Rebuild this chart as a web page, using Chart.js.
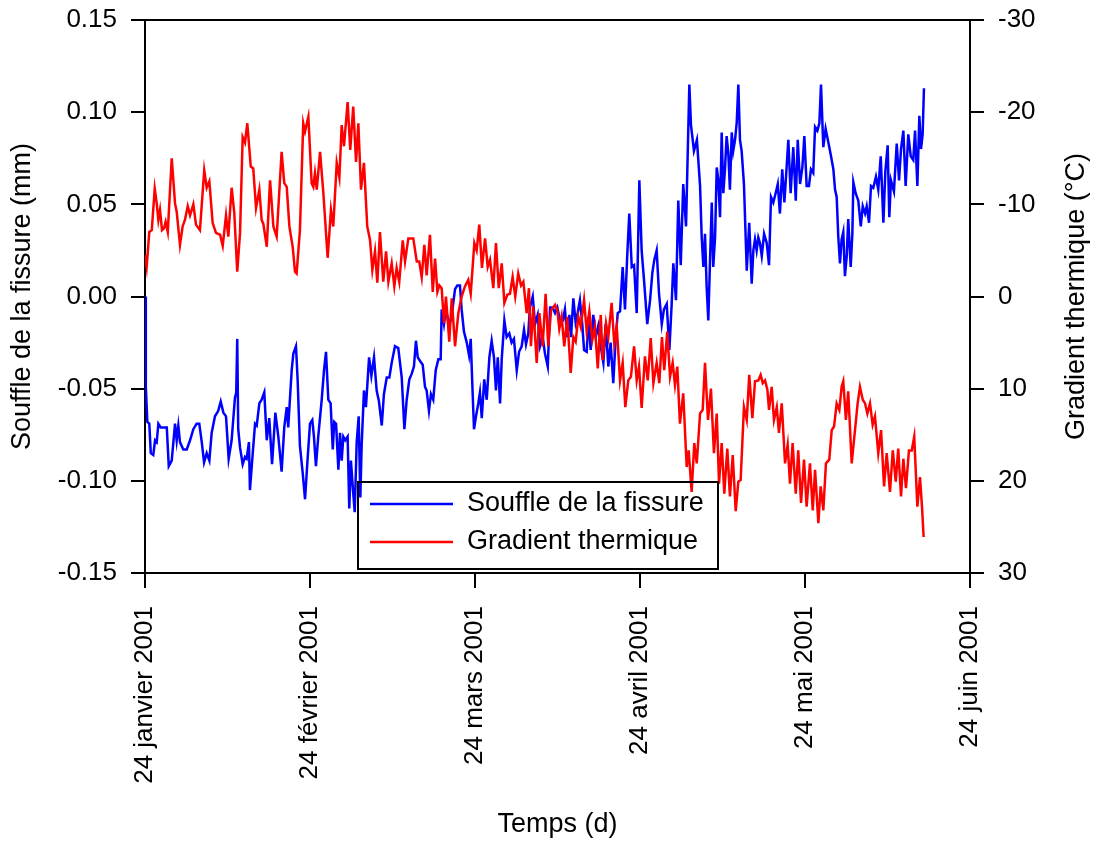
<!DOCTYPE html>
<html>
<head>
<meta charset="utf-8">
<script src="https://cdn.jsdelivr.net/npm/chart.js@4/dist/chart.umd.min.js"></script>
<style>
html, body { margin: 0; padding: 0; background: #fff; }
#wrap { width: 1099px; height: 844px; }
</style>
</head>
<body>
<div id="wrap"><canvas id="myChart" width="1099" height="844"></canvas></div>
<script>
// Axes: x in months from 24 January 2001
const xTickPos = [0, 1, 2, 3, 4, 5];
const xTickLabels = ["24 janvier 2001", "24 février 2001", "24 mars 2001", "24 avril 2001", "24 mai 2001", "24 juin 2001"];
const yTickPos = [-0.15, -0.10, -0.05, 0, 0.05, 0.10, 0.15];
const yTickLabels = ["-0.15", "-0.10", "-0.05", "0.00", "0.05", "0.10", "0.15"];
const y2TickPos = [-30, -20, -10, 0, 10, 20, 30];
const y2TickLabels = ["-30", "-20", "-10", "0", "10", "20", "30"];
const legendLabels = ["Souffle de la fissure", "Gradient thermique"];
const xTitle = "Temps (d)";
const yTitle = "Souffle de la fissure (mm)";
const y2Title = "Gradient thermique (°C)";

// Souffle de la fissure: [month, mm]
const souffle = [
  [0.000,0.000],[0.005,-0.049],[0.014,-0.068],[0.026,-0.069],[0.035,-0.085],[0.050,-0.086],[0.061,-0.078],[0.071,-0.079],[0.081,-0.069],[0.095,-0.071],[0.121,-0.071],[0.132,-0.071],[0.144,-0.092],[0.162,-0.089],[0.182,-0.069],[0.192,-0.078],[0.202,-0.070],[0.212,-0.079],[0.232,-0.083],[0.253,-0.083],[0.273,-0.078],[0.293,-0.072],[0.313,-0.069],[0.329,-0.069],[0.344,-0.079],[0.358,-0.090],[0.374,-0.085],[0.390,-0.089],[0.404,-0.074],[0.424,-0.065],[0.444,-0.062],[0.459,-0.057],[0.475,-0.063],[0.491,-0.065],[0.507,-0.088],[0.525,-0.078],[0.545,-0.055],[0.553,-0.052],[0.559,-0.023],[0.565,-0.072],[0.576,-0.082],[0.592,-0.091],[0.606,-0.087],[0.616,-0.088],[0.630,-0.079],[0.636,-0.105],[0.653,-0.085],[0.667,-0.069],[0.677,-0.070],[0.693,-0.058],[0.707,-0.056],[0.723,-0.052],[0.738,-0.078],[0.753,-0.066],[0.770,-0.091],[0.790,-0.063],[0.808,-0.076],[0.828,-0.095],[0.844,-0.071],
  [0.859,-0.060],[0.868,-0.071],[0.889,-0.040],[0.899,-0.031],[0.915,-0.027],[0.925,-0.045],[0.939,-0.081],[0.956,-0.096],[0.970,-0.110],[0.984,-0.090],[1.000,-0.069],[1.014,-0.067],[1.024,-0.076],[1.036,-0.092],[1.050,-0.076],[1.071,-0.056],[1.085,-0.040],[1.097,-0.030],[1.111,-0.056],[1.125,-0.058],[1.138,-0.083],[1.147,-0.068],[1.158,-0.069],[1.172,-0.094],[1.182,-0.074],[1.192,-0.089],[1.202,-0.076],[1.214,-0.078],[1.228,-0.076],[1.238,-0.115],[1.248,-0.089],[1.259,-0.103],[1.271,-0.117],[1.283,-0.079],[1.295,-0.065],[1.305,-0.109],[1.313,-0.081],[1.327,-0.051],[1.339,-0.060],[1.358,-0.033],[1.372,-0.043],[1.388,-0.033],[1.404,-0.051],[1.418,-0.057],[1.435,-0.070],[1.448,-0.053],[1.465,-0.044],[1.481,-0.044],[1.495,-0.036],[1.515,-0.027],[1.535,-0.028],[1.556,-0.044],[1.572,-0.072],[1.586,-0.056],[1.602,-0.045],[1.616,-0.042],[1.630,-0.038],[1.642,-0.024],[1.653,-0.033],[1.667,-0.035],[1.683,-0.037],[1.697,-0.049],
  [1.707,-0.051],[1.721,-0.062],[1.733,-0.053],[1.747,-0.056],[1.762,-0.040],[1.778,-0.034],[1.792,-0.034],[1.798,-0.007],[1.812,-0.015],[1.824,-0.007],[1.844,-0.016],[1.859,-0.010],[1.879,0.004],[1.893,0.006],[1.909,0.006],[1.919,-0.007],[1.933,-0.019],[1.950,-0.025],[1.964,-0.032],[1.974,-0.023],[1.986,-0.053],[1.994,-0.072],[2.006,-0.065],[2.020,-0.058],[2.030,-0.052],[2.041,-0.066],[2.056,-0.045],[2.071,-0.056],[2.087,-0.033],[2.101,-0.024],[2.115,-0.033],[2.127,-0.051],[2.138,-0.033],[2.152,-0.058],[2.162,-0.034],[2.178,-0.013],[2.192,-0.022],[2.208,-0.020],[2.222,-0.025],[2.236,-0.023],[2.253,-0.040],[2.267,-0.030],[2.283,-0.027],[2.297,-0.018],[2.309,-0.026],[2.323,-0.020],[2.333,-0.006],[2.350,0.000],[2.364,-0.015],[2.380,-0.010],[2.394,-0.027],[2.410,-0.022],[2.424,-0.031],[2.441,-0.038],[2.455,-0.006],[2.471,-0.006],[2.485,-0.009],[2.499,-0.006],[2.515,-0.013],
  [2.532,-0.013],[2.545,-0.007],[2.559,-0.022],[2.572,-0.010],[2.582,-0.022],[2.596,-0.001],[2.610,-0.014],[2.622,-0.009],[2.636,-0.002],[2.650,-0.015],[2.661,-0.029],[2.677,-0.030],[2.687,-0.011],[2.701,-0.029],[2.717,-0.010],[2.732,-0.022],[2.747,-0.016],[2.762,-0.027],[2.778,-0.036],[2.792,-0.015],[2.808,-0.038],[2.822,-0.025],[2.838,-0.047],[2.853,-0.022],[2.865,-0.009],[2.879,-0.008],[2.895,0.016],[2.909,-0.007],[2.923,0.023],[2.935,0.045],[2.950,0.016],[2.964,0.017],[2.980,-0.009],[2.996,0.063],[3.010,0.025],[3.026,0.007],[3.044,-0.015],[3.061,-0.002],[3.075,0.013],[3.087,0.020],[3.101,0.025],[3.115,0.002],[3.132,-0.015],[3.145,-0.007],[3.162,-0.004],[3.178,-0.029],[3.192,-0.004],[3.202,0.018],[3.218,-0.002],[3.232,0.052],[3.247,0.017],[3.262,0.061],[3.279,0.038],[3.287,0.069],[3.299,0.115],[3.309,0.093],[3.327,0.079],[3.345,0.085],
  [3.364,0.060],[3.374,0.032],[3.384,0.016],[3.394,0.034],[3.404,0.005],[3.414,-0.013],[3.424,0.018],[3.435,0.051],[3.444,0.016],[3.455,0.032],[3.465,0.070],[3.475,0.063],[3.485,0.043],[3.495,0.089],[3.505,0.056],[3.515,0.069],[3.525,0.087],[3.535,0.078],[3.545,0.058],[3.556,0.089],[3.565,0.079],[3.576,0.085],[3.586,0.094],[3.596,0.115],[3.606,0.085],[3.616,0.079],[3.630,0.061],[3.647,0.014],[3.662,0.040],[3.677,0.007],[3.687,0.025],[3.697,0.031],[3.707,0.025],[3.717,0.032],[3.727,0.029],[3.738,0.022],[3.752,0.034],[3.768,0.029],[3.782,0.017],[3.794,0.054],[3.808,0.051],[3.822,0.056],[3.835,0.061],[3.848,0.045],[3.862,0.069],[3.875,0.051],[3.885,0.065],[3.899,0.085],[3.913,0.056],[3.929,0.081],[3.944,0.052],[3.956,0.085],[3.970,0.061],[3.984,0.070],[3.996,0.087],[4.010,0.060],[4.024,0.060],[4.036,0.069],[4.050,0.067],[4.061,0.092],[4.075,0.090],[4.087,0.094],[4.097,0.115],[4.111,0.081],[4.125,0.091],
  [4.145,0.082],[4.158,0.076],[4.172,0.069],[4.182,0.058],[4.192,0.054],[4.202,0.032],[4.212,0.018],[4.222,0.031],[4.232,0.035],[4.242,0.011],[4.253,0.022],[4.262,0.042],[4.277,0.016],[4.287,0.034],[4.293,0.062],[4.307,0.056],[4.323,0.052],[4.338,0.038],[4.350,0.049],[4.364,0.045],[4.374,0.049],[4.388,0.040],[4.400,0.060],[4.414,0.059],[4.430,0.065],[4.444,0.058],[4.459,0.076],[4.475,0.040],[4.487,0.068],[4.501,0.082],[4.511,0.043],[4.521,0.063],[4.539,0.057],[4.556,0.083],[4.570,0.063],[4.582,0.080],[4.596,0.090],[4.610,0.060],[4.626,0.088],[4.641,0.076],[4.656,0.074],[4.667,0.090],[4.681,0.060],[4.693,0.098],[4.703,0.080],[4.713,0.088],[4.721,0.113]
];

// Gradient thermique: [month, °C]
const gradient = [
  [0.000,-4.5],[0.010,-3.2],[0.026,-7.0],[0.041,-7.2],[0.059,-11.7],[0.071,-10.1],[0.081,-8.3],[0.091,-9.4],[0.103,-7.2],[0.115,-7.4],[0.125,-8.1],[0.138,-7.0],[0.162,-15.0],[0.182,-10.1],[0.192,-9.2],[0.212,-5.6],[0.228,-7.6],[0.242,-8.3],[0.259,-9.8],[0.273,-8.8],[0.293,-10.0],[0.309,-7.8],[0.333,-7.2],[0.359,-13.7],[0.374,-11.8],[0.390,-12.5],[0.410,-8.0],[0.430,-6.9],[0.455,-6.7],[0.471,-5.5],[0.491,-8.8],[0.505,-6.5],[0.525,-11.8],[0.541,-9.1],[0.559,-2.7],[0.576,-6.9],[0.592,-17.3],[0.606,-16.7],[0.620,-18.8],[0.641,-14.1],[0.656,-13.9],[0.673,-9.6],[0.693,-11.6],[0.707,-8.3],[0.717,-7.9],[0.738,-5.4],[0.758,-12.6],[0.778,-7.6],[0.798,-6.5],[0.828,-15.7],[0.844,-12.3],
  [0.859,-11.9],[0.875,-7.6],[0.895,-5.4],[0.909,-2.7],[0.919,-2.5],[0.939,-7.2],[0.959,-18.8],[0.970,-17.9],[0.990,-19.5],[1.010,-12.3],[1.020,-11.9],[1.030,-13.4],[1.041,-11.6],[1.061,-15.7],[1.081,-11.2],[1.107,-4.2],[1.127,-9.4],[1.141,-7.6],[1.162,-14.5],[1.178,-12.9],[1.192,-18.6],[1.206,-16.3],[1.228,-21.1],[1.244,-15.9],[1.262,-20.6],[1.279,-14.6],[1.293,-18.8],[1.309,-11.6],[1.327,-14.5],[1.347,-7.6],[1.364,-6.1],[1.378,-2.9],[1.394,-4.9],[1.408,-1.5],[1.424,-7.0],[1.444,-1.6],[1.461,-4.9],[1.475,-1.6],[1.495,-3.6],[1.511,-1.1],[1.525,-3.1],[1.541,-1.6],[1.562,-6.1],[1.576,-3.8],[1.596,-6.3],[1.626,-6.3],[1.647,-3.8],[1.662,-3.8],[1.677,-2.1],[1.693,-5.6],
  [1.707,-2.3],[1.727,-6.7],[1.744,-0.5],[1.758,-4.1],[1.772,-0.5],[1.784,-1.2],[1.798,-0.9],[1.812,2.9],[1.824,0.0],[1.844,4.9],[1.859,0.2],[1.879,5.4],[1.899,1.8],[1.919,0.0],[1.939,-1.1],[1.959,-1.8],[1.974,-0.3],[1.996,-5.8],[2.010,-5.0],[2.026,-7.8],[2.042,-3.1],[2.061,-6.3],[2.077,-3.2],[2.091,-4.0],[2.111,-0.9],[2.127,-5.8],[2.144,-0.9],[2.162,-3.6],[2.178,0.7],[2.196,-0.2],[2.212,-0.3],[2.228,-2.1],[2.244,0.0],[2.262,-2.5],[2.279,-1.2],[2.293,-1.6],[2.313,1.8],[2.327,-0.9],[2.339,5.4],[2.353,1.1],[2.374,7.2],[2.390,1.8],[2.410,5.4],[2.428,-0.3],[2.444,5.4],[2.461,1.5],[2.485,0.9],[2.499,1.5],[2.511,3.5],[2.525,2.2],[2.541,5.4],
  [2.559,2.2],[2.580,8.3],[2.596,4.4],[2.610,4.9],[2.626,2.2],[2.641,3.3],[2.661,0.4],[2.677,3.8],[2.693,1.6],[2.711,4.7],[2.727,3.3],[2.744,7.8],[2.762,2.0],[2.774,6.9],[2.794,2.9],[2.808,4.4],[2.828,0.7],[2.844,5.1],[2.859,3.3],[2.879,9.1],[2.895,7.2],[2.911,12.0],[2.929,9.1],[2.945,8.7],[2.964,5.4],[2.980,9.1],[2.994,7.6],[3.010,12.1],[3.030,6.5],[3.047,9.1],[3.065,4.5],[3.081,9.4],[3.101,7.2],[3.117,9.4],[3.133,4.4],[3.147,8.0],[3.165,3.8],[3.182,8.7],[3.198,7.2],[3.212,9.6],[3.226,7.6],[3.242,13.8],[3.262,10.5],[3.283,18.5],[3.295,16.7],[3.313,21.2],[3.329,15.9],[3.344,18.1],[3.364,12.7],[3.380,12.3],[3.394,7.2],
  [3.412,13.4],[3.430,10.0],[3.448,17.0],[3.465,12.7],[3.479,20.3],[3.495,15.9],[3.511,21.4],[3.529,16.5],[3.545,21.7],[3.562,17.2],[3.580,23.3],[3.596,20.1],[3.610,19.9],[3.630,12.0],[3.647,13.4],[3.662,8.5],[3.681,13.2],[3.697,9.2],[3.717,9.1],[3.731,8.5],[3.744,9.4],[3.758,9.1],[3.772,10.1],[3.782,12.3],[3.798,9.8],[3.812,13.4],[3.829,12.0],[3.842,14.8],[3.859,11.6],[3.879,18.1],[3.895,16.1],[3.909,20.3],[3.925,15.9],[3.944,21.4],[3.959,16.7],[3.976,22.4],[3.994,17.7],[4.010,22.8],[4.030,18.1],[4.047,23.2],[4.061,18.8],[4.081,24.6],[4.095,20.6],[4.111,23.2],[4.127,18.1],[4.147,17.7],
  [4.162,14.5],[4.176,14.1],[4.192,11.6],[4.208,12.3],[4.222,9.8],[4.232,9.2],[4.248,13.4],[4.262,10.3],[4.283,18.1],[4.303,14.5],[4.319,11.6],[4.333,9.8],[4.350,11.2],[4.364,11.6],[4.378,12.7],[4.394,11.6],[4.410,13.9],[4.424,13.0],[4.444,17.0],[4.461,14.5],[4.479,20.6],[4.495,17.0],[4.515,21.2],[4.532,16.7],[4.550,20.1],[4.565,16.5],[4.582,21.7],[4.596,17.6],[4.612,20.8],[4.630,16.7],[4.647,16.7],[4.662,15.2],[4.681,22.8],[4.697,19.6],[4.709,22.8],[4.719,26.1]
];

const FONT = '"Liberation Sans", Arial, Helvetica, sans-serif';

// Cadre du graphique, legende et titre de droite (lu de bas en haut)
const cadre = {
  id: "cadre",
  afterDraw(chart) {
    const ctx = chart.ctx;
    const a = chart.chartArea;
    ctx.save();
    ctx.strokeStyle = "#000";
    ctx.lineWidth = 2;
    ctx.beginPath();
    ctx.moveTo(a.left, a.top);
    ctx.lineTo(a.right, a.top);
    ctx.stroke();

    // legende
    const bx = a.left + 213, by = a.bottom - 91;
    ctx.strokeRect(bx, by, 360, 87);
    ctx.font = "27px " + FONT;
    ctx.textBaseline = "middle";
    ctx.textAlign = "left";
    chart.data.datasets.forEach((ds, i) => {
      const y = by + 22 + i * 38;
      ctx.strokeStyle = ds.borderColor;
      ctx.lineWidth = 2.5;
      ctx.beginPath();
      ctx.moveTo(bx + 12, y);
      ctx.lineTo(bx + 95, y);
      ctx.stroke();
      ctx.fillStyle = "#000";
      ctx.fillText(ds.label, bx + 109, y);
    });

    // titre axe droit
    ctx.translate(chart.width - 22, (a.top + a.bottom) / 2);
    ctx.rotate(-Math.PI / 2);
    ctx.textAlign = "center";
    ctx.fillText(y2Title, 0, 0);
    ctx.restore();
  }
};

// largeur fixe des axes verticaux, sans marge pour les etiquettes
function fixeLargeur(w) {
  return s => { s.width = w; s.paddingTop = 0; s.paddingBottom = 0; };
}

const cnv = document.getElementById("myChart");

new Chart(cnv, {
  type: "line",
  data: {
    datasets: [
      {
        label: legendLabels[0],
        data: souffle.map(p => ({ x: p[0], y: p[1] })),
        yAxisID: "y",
        borderColor: "#0000ff",
        borderWidth: 2.5,
        pointRadius: 0,
        fill: false,
        order: 1
      },
      {
        label: legendLabels[1],
        data: gradient.map(p => ({ x: p[0], y: p[1] })),
        yAxisID: "y2",
        borderColor: "#ff0000",
        borderWidth: 2.5,
        pointRadius: 0,
        fill: false,
        order: 0
      }
    ]
  },
  options: {
    responsive: false,
    animation: false,
    layout: { padding: { top: 20, left: 0, right: 0, bottom: 0 } },
    plugins: { legend: { display: false }, tooltip: { enabled: false } },
    scales: {
      x: {
        type: "linear",
        position: "bottom",
        min: 0,
        max: 5,
        afterBuildTicks: s => { s.ticks = xTickPos.map(v => ({ value: v })); },
        afterFit: s => { s.height = 271; s.paddingLeft = 0; s.paddingRight = 0; },
        ticks: {
          autoSkip: false,
          maxRotation: 90,
          minRotation: 90,
          padding: 18,
          color: "#000",
          font: { family: FONT, size: 26 },
          callback: (v, i) => xTickLabels[i]
        },
        grid: { drawOnChartArea: false, drawTicks: true, tickLength: 15, color: "#000", lineWidth: 2 },
        border: { display: true, color: "#000", width: 2 },
        title: { display: true, text: xTitle, color: "#000", font: { family: FONT, size: 27 }, padding: { top: 0, bottom: 3 } }
      },
      y: {
        position: "left",
        min: -0.15,
        max: 0.15,
        afterBuildTicks: s => { s.ticks = yTickPos.map(v => ({ value: v })); },
        afterFit: fixeLargeur(145),
        ticks: {
          padding: 14,
          color: "#000",
          font: { family: FONT, size: 26 },
          callback: (v, i) => yTickLabels[i]
        },
        grid: { drawOnChartArea: false, drawTicks: true, tickLength: 14, color: "#000", lineWidth: 2 },
        border: { display: true, color: "#000", width: 2 },
        title: { display: true, text: yTitle, color: "#000", font: { family: FONT, size: 27 }, padding: { top: 6, bottom: 0 } }
      },
      y2: {
        position: "right",
        min: -30,
        max: 30,
        reverse: true,
        afterBuildTicks: s => { s.ticks = y2TickPos.map(v => ({ value: v })); },
        afterFit: fixeLargeur(129),
        ticks: {
          padding: 14,
          color: "#000",
          font: { family: FONT, size: 26 },
          callback: (v, i) => y2TickLabels[i]
        },
        grid: { drawOnChartArea: false, drawTicks: true, tickLength: 14, color: "#000", lineWidth: 2 },
        border: { display: true, color: "#000", width: 2 }
      }
    }
  },
  plugins: [cadre]
});
</script>
</body>
</html>
